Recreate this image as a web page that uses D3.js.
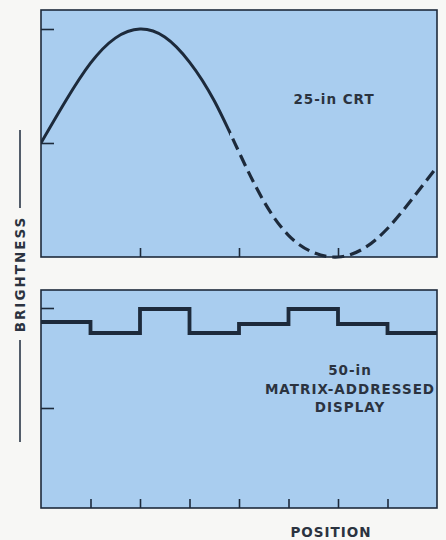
<!DOCTYPE html>
<html>
<head>
<meta charset="utf-8">
<script src="https://cdn.jsdelivr.net/npm/d3@7"></script>
<style>
  body { margin: 0; background: #f7f7f5; }
  svg text { font-family: "DejaVu Sans", sans-serif; font-weight: bold; fill: #2b3340; letter-spacing: 1px; }
</style>
</head>
<body>
<div id="chart"></div>
<script>
// CRT brightness profile (position in cell units, brightness in tick units)
const crtPos    = [0, 0.25, 0.5, 0.75, 1.0, 1.25, 1.5, 1.75, 2.0, 2.25, 2.5, 2.75, 3.0, 3.25, 3.5, 3.75, 4.0];
const crtBright = [1.0, 1.37, 1.70, 1.92, 2.0, 1.93, 1.71, 1.37, 0.92, 0.49, 0.19, 0.04, 0.0, 0.07, 0.25, 0.51, 0.79];
const crtSolidEnd = 1.91;

// matrix-addressed display: one brightness level per cell
const cellStart  = [0, 0.5, 1, 1.5, 2, 2.5, 3, 3.5];
const cellBright = [1.86, 1.75, 1.99, 1.75, 1.84, 1.99, 1.84, 1.75];

const topXTicks = [1, 2, 3];
const botXTicks = [0.5, 1, 1.5, 2, 2.5, 3, 3.5];
const yTicks = [1, 2];

const width = 446, height = 540;
const ink = "#1d2a3b";
const panelFill = "#a9cdef";

const svg = d3.select("#chart").append("svg")
    .attr("width", width)
    .attr("height", height);

const x = d3.scaleLinear().domain([0, 4]).range([41, 437]);
const yTop = d3.scaleLinear().domain([0, 2]).range([257, 29]);
const yBot = d3.scaleLinear().domain([0, 2]).range([508, 308]);

// panel backgrounds
function panel(top, bottom) {
    svg.append("rect")
        .attr("x", x(0)).attr("y", top)
        .attr("width", x(4) - x(0)).attr("height", bottom - top)
        .attr("fill", panelFill)
        .attr("stroke", ink)
        .attr("stroke-width", 1.6);
}
panel(10, yTop(0));
panel(290, yBot(0));

// inward ticks
function ticks(yScale, xt, bottom) {
    const gx = svg.append("g")
        .attr("transform", `translate(0,${bottom})`)
        .call(d3.axisBottom(x).tickValues(xt).tickSize(-9).tickFormat(""));
    const gy = svg.append("g")
        .attr("transform", `translate(${x(0)},0)`)
        .call(d3.axisLeft(yScale).tickValues(yTicks).tickSize(-13).tickFormat(""));
    [gx, gy].forEach(g => {
        g.select(".domain").remove();
        g.selectAll("line").attr("stroke", ink).attr("stroke-width", 1.6);
    });
}
ticks(yTop, topXTicks, yTop(0));
ticks(yBot, botXTicks, yBot(0));

// CRT curve, solid then dashed
const crtData = crtPos.map((p, i) => ({ p: p, b: crtBright[i] }));
const crtLine = d3.line()
    .x(d => x(d.p))
    .y(d => yTop(d.b))
    .curve(d3.curveNatural);

const defs = svg.append("defs");
defs.append("clipPath").attr("id", "solidClip")
    .append("rect").attr("x", 0).attr("y", 0).attr("width", x(crtSolidEnd)).attr("height", height);
defs.append("clipPath").attr("id", "dashClip")
    .append("rect").attr("x", x(crtSolidEnd)).attr("y", 0).attr("width", width).attr("height", height);
defs.append("clipPath").attr("id", "topPanel")
    .append("rect").attr("x", x(0)).attr("y", 10).attr("width", x(4) - x(0)).attr("height", yTop(0) - 10 + 2);

const crtG = svg.append("g").attr("clip-path", "url(#topPanel)");
crtG.append("path")
    .datum(crtData)
    .attr("clip-path", "url(#solidClip)")
    .attr("d", crtLine)
    .attr("fill", "none")
    .attr("stroke", ink)
    .attr("stroke-width", 3);
crtG.append("path")
    .datum(crtData)
    .attr("clip-path", "url(#dashClip)")
    .attr("d", crtLine)
    .attr("fill", "none")
    .attr("stroke", ink)
    .attr("stroke-width", 3.2)
    .attr("stroke-dasharray", "12,6");

// matrix step line
const stepData = cellStart.map((p, i) => ({ p: p, b: cellBright[i] }));
stepData.push({ p: 4, b: cellBright[cellBright.length - 1] });
svg.append("path")
    .datum(stepData)
    .attr("d", d3.line().x(d => x(d.p)).y(d => yBot(d.b)).curve(d3.curveStepAfter))
    .attr("fill", "none")
    .attr("stroke", ink)
    .attr("stroke-width", 3.8)
    .attr("stroke-linejoin", "miter");

// labels
svg.append("text").attr("x", 334).attr("y", 104)
    .attr("text-anchor", "middle").attr("font-size", 13.5).text("25-in CRT");

const matLabel = svg.append("text").attr("text-anchor", "middle").attr("font-size", 13.5);
["50-in", "MATRIX-ADDRESSED", "DISPLAY"].forEach((t, i) => {
    matLabel.append("tspan").attr("x", 350).attr("y", 375 + i * 18.5).text(t);
});

svg.append("text").attr("x", 331).attr("y", 537)
    .attr("text-anchor", "middle").attr("font-size", 13.5).text("POSITION");

svg.append("text")
    .attr("transform", "translate(25,274) rotate(-90)")
    .attr("text-anchor", "middle").attr("font-size", 13.5)
    .style("letter-spacing", "2px")
    .text("BRIGHTNESS");

svg.append("line").attr("x1", 20).attr("x2", 20).attr("y1", 130).attr("y2", 208)
    .attr("stroke", ink).attr("stroke-width", 1.5);
svg.append("line").attr("x1", 20).attr("x2", 20).attr("y1", 340).attr("y2", 442)
    .attr("stroke", ink).attr("stroke-width", 1.5);
</script>
</body>
</html>
